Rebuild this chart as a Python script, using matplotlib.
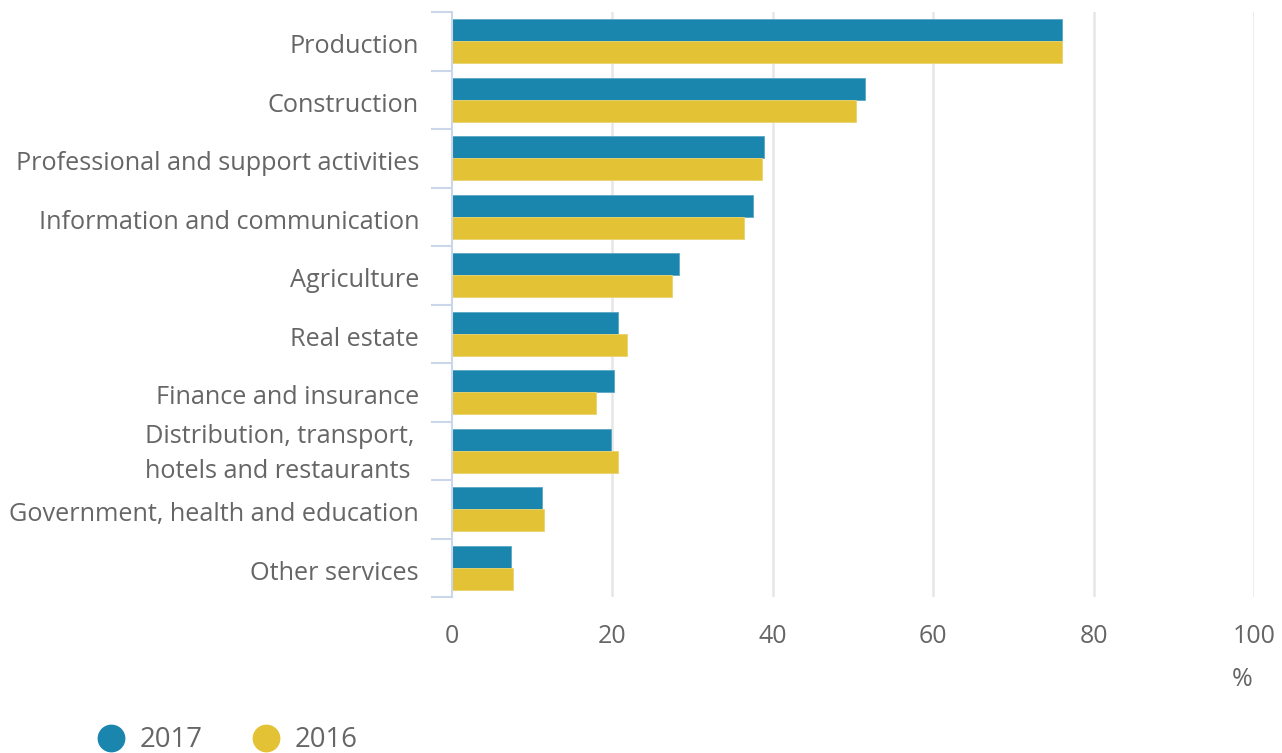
import matplotlib
matplotlib.use("Agg")
import matplotlib.pyplot as plt
from matplotlib.lines import Line2D
import matplotlib.transforms as mtransforms
import numpy as np

categories = ["Production", "Construction", "Professional and support activities",
              "Information and communication", "Agriculture", "Real estate",
              "Finance and insurance", "Distribution, transport,\nhotels and restaurants",
              "Government, health and education", "Other services"]
values_2017 = [76.1, 51.5, 38.9, 37.5, 28.3, 20.7, 20.2, 19.8, 11.2, 7.4]
values_2016 = [76.1, 50.4, 38.7, 36.4, 27.4, 21.8, 18.0, 20.7, 11.5, 7.6]
series_names = ["2017", "2016"]
xticks = [0, 20, 40, 60, 80, 100]

plt.rcParams['font.family'] = ['Open Sans', 'DejaVu Sans']
txt = '#666666'
c17 = '#1a85ad'
c16 = '#e3c236'
axc = '#ccd6eb'

W, H = 1282, 753
fig = plt.figure(figsize=(W / 100, H / 100), dpi=100)
ax = fig.add_axes([0.3526, 0.207, 0.6256, 0.777])

n = len(categories)
y = np.arange(n)
h = 0.376
ax.barh(y - h/2, values_2017, height=h, color=c17, edgecolor='#5aa6c4', linewidth=0.6, zorder=3)
ax.barh(y + h/2, values_2016, height=h, color=c16, edgecolor='#ead370', linewidth=0.6, zorder=3)

ax.set_ylim(n - 0.5, -0.5)
ax.set_xlim(0, 100)
ax.set_xticks(xticks)
ax.set_xticklabels([str(t) for t in xticks])
ax.set_yticks([])
ax.set_yticks(np.arange(-0.5, n, 1.0), minor=True)

ax.tick_params(axis='y', which='minor', length=15, width=1.5, color=axc)
ax.tick_params(axis='x', length=0, pad=19, labelsize=18, labelcolor=txt)

# category labels
ax_w_px = 0.6256 * W
for i, lab in enumerate(categories):
    multi = "\n" in lab
    right_px = 414 if multi else 419
    xa = -(452 - right_px) / ax_w_px
    dy = -3 if multi else -5.5
    tr = ax.get_yaxis_transform() + mtransforms.ScaledTranslation(0, dy / 100, fig.dpi_scale_trans)
    ax.text(xa, i, lab, transform=tr, ha='right', va='center', multialignment='left',
            fontsize=18.2, color=txt, linespacing=1.5)

for t in xticks[1:]:
    ax.axvline(t, color='#e6e6e6', linewidth=1.8, zorder=1)

for s in ['top', 'right', 'bottom']:
    ax.spines[s].set_visible(False)
ax.spines['left'].set_color(axc)
ax.spines['left'].set_linewidth(1.5)
ax.spines['left'].set_zorder(4)

fig.text(0.969, 0.097, "%", fontsize=18, color=txt, ha='center', va='center')

handles = [Line2D([], [], marker='o', linestyle='none', markersize=19, color=c17),
           Line2D([], [], marker='o', linestyle='none', markersize=19, color=c16)]
fig.legend(handles, series_names, loc='center left', bbox_to_anchor=(0.067, 0.017),
           ncol=2, frameon=False, fontsize=19.8, labelcolor=txt, handletextpad=0.55,
           columnspacing=1.8, borderaxespad=0, handlelength=1.0)

fig.savefig("out.png", dpi=100)
